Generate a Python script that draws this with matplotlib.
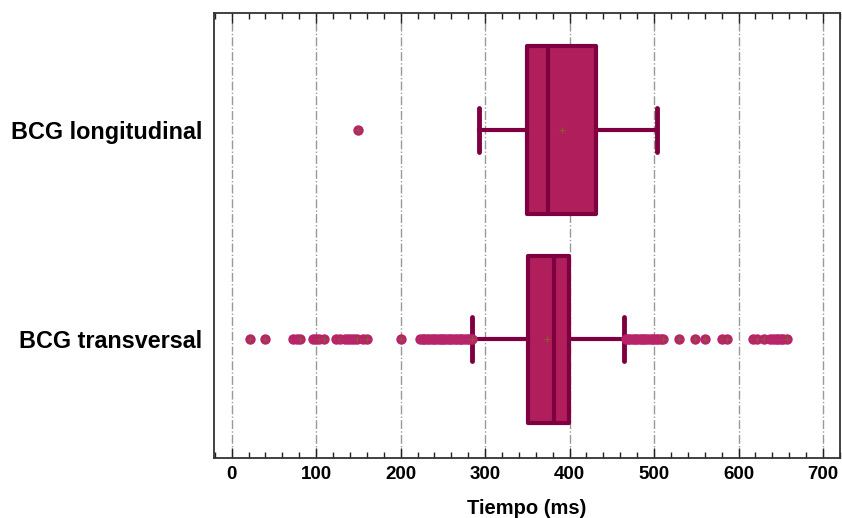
import matplotlib.pyplot as plt
from matplotlib.ticker import MultipleLocator

plt.rcParams['font.family'] = ['Liberation Sans', 'DejaVu Sans']

# box statistics per signal (ms)
labels = ['BCG longitudinal', 'BCG transversal']
q1 = [350, 351]
medians = [375, 381]
q3 = [431, 399.5]
whisk_lo = [293, 284.5]
whisk_hi = [503, 464.5]
means = [391, 373]

# outliers
fliers_long = [149]
fliers_trans = [22, 39, 73, 77, 81, 96, 100, 104, 109, 123, 128, 134, 138, 141,
                145, 148, 156, 160, 201,
                223, 226, 228, 231, 234, 237, 239, 242, 245, 248, 250, 253, 256,
                259, 261, 264, 267, 270, 272, 275, 278, 281, 284,
                467, 469, 472, 475, 477, 480, 483, 486, 488, 491, 494, 497, 499,
                502, 505, 508, 510,
                530, 549, 560, 580, 586, 617, 622, 630, 637, 641, 644, 647, 650,
                653, 657]
fliers = [fliers_long, fliers_trans]

box_fill = '#B01F5C'
box_edge = '#7E0041'
dot_col = '#B8236B'
plus_col = '#8C5A2C'

fig = plt.figure(figsize=(8.42, 5.18), dpi=100)
ax = fig.add_axes([0.254, 0.116, 0.7436, 0.859])

stats = []
for i in range(len(labels)):
    stats.append(dict(label=labels[i], q1=q1[i], med=medians[i], q3=q3[i],
                      whislo=whisk_lo[i], whishi=whisk_hi[i], mean=means[i],
                      fliers=[]))

pos = [1, 2]
ax.bxp(stats, positions=pos, widths=0.8, capwidths=0.21, orientation='horizontal',
       patch_artist=True, showmeans=True, showfliers=False,
       boxprops=dict(facecolor=box_fill, edgecolor=box_edge, linewidth=3,
                     joinstyle='round'),
       medianprops=dict(color=box_edge, linewidth=3),
       whiskerprops=dict(color=box_edge, linewidth=3),
       capprops=dict(color=box_edge, linewidth=3.5, solid_capstyle='round'),
       meanprops=dict(marker='+', markeredgecolor=plus_col, markersize=4,
                      markeredgewidth=0.8),
       zorder=3)

# outliers: dot with a small cross on top
for p, vals in zip(pos, fliers):
    for v in vals:
        ax.plot(v, p, 'o', color=dot_col, markersize=7.5, markeredgewidth=0,
                zorder=4)
        ax.plot(v, p, '+', color=plus_col, markersize=4, markeredgewidth=0.8,
                zorder=4)

ax.set_xlim(-21, 720)
ax.set_ylim(2.566, 0.4415)
ax.set_yticks(pos)
ax.set_yticklabels(labels, fontsize=16.8, fontweight='bold')
ax.tick_params(axis='y', length=0, pad=8.5)

ax.xaxis.set_major_locator(MultipleLocator(100))
ax.xaxis.set_minor_locator(MultipleLocator(20))
ax.tick_params(axis='x', which='both', direction='in', top=True, bottom=True,
               color='#222222', width=1)
ax.tick_params(axis='x', which='major', length=7, labelsize=13.5, pad=6)
ax.tick_params(axis='x', which='minor', length=4)
for t in ax.get_xticklabels():
    t.set_fontweight('bold')

ax.grid(axis='x', which='major', color='#999999', linestyle='-.', linewidth=1,
        zorder=0)
ax.set_axisbelow(True)

for s in ax.spines.values():
    s.set_color('#333333')
    s.set_linewidth(1.3)

ax.set_xlabel('Tiempo (ms)', fontsize=14.5, fontweight='bold', labelpad=11)

fig.savefig('out.png', dpi=100)
